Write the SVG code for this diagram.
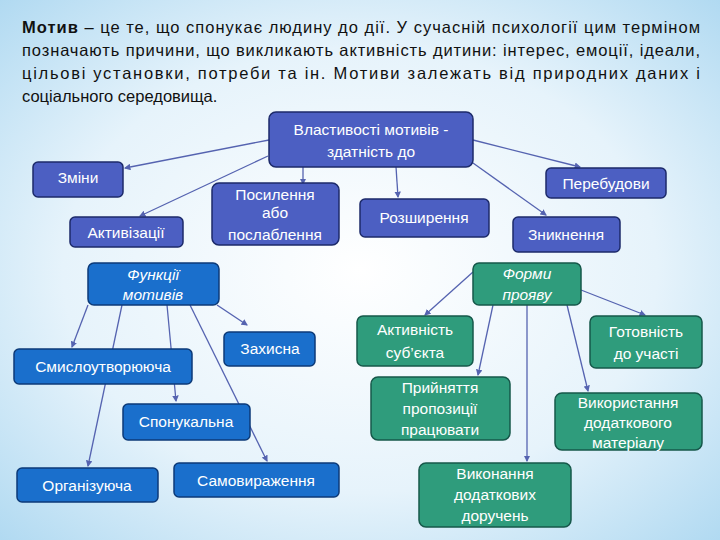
<svg xmlns="http://www.w3.org/2000/svg" width="720" height="540" viewBox="0 0 720 540">
<defs>
<radialGradient id="bg" cx="50%" cy="50%" r="75%">
<stop offset="0" stop-color="#ffffff"/><stop offset="0.55" stop-color="#e6f3fb"/><stop offset="1" stop-color="#a9d6f0"/>
</radialGradient>
<marker id="a" viewBox="0 0 6 6" refX="5" refY="3" markerWidth="5" markerHeight="5" orient="auto"><path d="M0,0L6,3L0,6z" fill="#5563b0"/></marker>
<style>
.t{font-family:"Liberation Sans","DejaVu Sans",sans-serif;font-size:16.5px;fill:#111}
.b rect{fill:#4c5fc2;stroke:#1c2a6a;stroke-width:1.5}
.f rect{fill:#1a6fcc;stroke:#0c3a78;stroke-width:1.5}
.g rect{fill:#2f9c7c;stroke:#16584a;stroke-width:1.5}
.n text{font-family:"Liberation Sans","DejaVu Sans",sans-serif;font-size:15.5px;fill:#fff;text-anchor:middle}
.i text{font-style:italic}
#c line{stroke:#5563b0;stroke-width:1.3;marker-end:url(#a)}
</style>
</defs>
<rect width="720" height="540" fill="url(#bg)"/>
<g class="t">
<text x="22" y="33" textLength="678" lengthAdjust="spacing"><tspan font-weight="bold">Мотив</tspan> – це те, що спонукає людину до дії. У сучасній психології цим терміном</text>
<text x="22" y="56" textLength="678" lengthAdjust="spacing">позначають причини, що викликають активність дитини: інтерес, емоції, ідеали,</text>
<text x="22" y="79" textLength="678" lengthAdjust="spacing">цільові установки, потреби та ін. Мотиви залежать від природних даних і</text>
<text x="22" y="102">соціального середовища.</text>
</g>
<g id="c">
<line x1="269" y1="140" x2="125" y2="168"/>
<line x1="268" y1="156" x2="140" y2="216"/>
<line x1="303" y1="167" x2="303" y2="184"/>
<line x1="396" y1="167" x2="398" y2="197"/>
<line x1="473" y1="140" x2="580" y2="167"/>
<line x1="473" y1="163" x2="546" y2="215"/>
<line x1="88" y1="305" x2="72" y2="347"/>
<line x1="122" y1="305" x2="88" y2="466"/>
<line x1="167" y1="305" x2="176" y2="401"/>
<line x1="190" y1="305" x2="267" y2="461"/>
<line x1="217" y1="305" x2="247" y2="325"/>
<line x1="473" y1="272" x2="425" y2="315"/>
<line x1="493" y1="305" x2="478" y2="375"/>
<line x1="527" y1="305" x2="527" y2="461"/>
<line x1="567" y1="305" x2="588" y2="391"/>
<line x1="581" y1="290" x2="645" y2="315"/>
</g>
<g id="root" class="n b"><rect x="269" y="112" width="204" height="55" rx="7"/><text x="371" y="135">Властивості мотивів -</text><text x="371" y="157">здатність до</text></g>
<g id="zminy" class="n b"><rect x="33" y="162" width="90" height="35" rx="5"/><text x="78" y="183">Зміни</text></g>
<g id="aktyv" class="n b"><rect x="70" y="217" width="113" height="30" rx="5"/><text x="126" y="238">Активізації</text></g>
<g id="posyl" class="n b"><rect x="212" y="183" width="127" height="62" rx="7"/><text x="275" y="200">Посилення</text><text x="275" y="218">або</text><text x="275" y="240">послаблення</text></g>
<g id="rozsh" class="n b"><rect x="360" y="199" width="129" height="38" rx="5"/><text x="424" y="223">Розширення</text></g>
<g id="pereb" class="n b"><rect x="546" y="168" width="120" height="30" rx="5"/><text x="606" y="189">Перебудови</text></g>
<g id="znyk" class="n b"><rect x="513" y="217" width="107" height="35" rx="5"/><text x="566" y="240">Зникнення</text></g>
<g id="funk" class="n f i"><rect x="88" y="263" width="131" height="42" rx="6"/><text x="153" y="280">Функції</text><text x="153" y="300">мотивів</text></g>
<g id="formy" class="n g i"><rect x="473" y="263" width="108" height="42" rx="6"/><text x="527" y="279">Форми</text><text x="527" y="300">прояву</text></g>
<g id="smysl" class="n f"><rect x="14" y="349" width="178" height="35" rx="5"/><text x="103" y="372">Смислоутворююча</text></g>
<g id="zakh" class="n f"><rect x="224" y="332" width="91" height="34" rx="5"/><text x="270" y="354">Захисна</text></g>
<g id="sponuk" class="n f"><rect x="123" y="404" width="127" height="36" rx="5"/><text x="186" y="427">Спонукальна</text></g>
<g id="orhan" class="n f"><rect x="17" y="468" width="141" height="34" rx="5"/><text x="87" y="491">Організуюча</text></g>
<g id="samov" class="n f"><rect x="174" y="463" width="165" height="34" rx="5"/><text x="256" y="486">Самовираження</text></g>
<g id="aktsub" class="n g"><rect x="357" y="316" width="116" height="50" rx="6"/><text x="415" y="335">Активність</text><text x="415" y="358">суб’єкта</text></g>
<g id="hotov" class="n g"><rect x="590" y="316" width="112" height="52" rx="6"/><text x="646" y="337">Готовність</text><text x="646" y="359">до участі</text></g>
<g id="pryin" class="n g"><rect x="371" y="377" width="139" height="63" rx="7"/><text x="440" y="393">Прийняття</text><text x="440" y="414">пропозиції</text><text x="440" y="435">працювати</text></g>
<g id="vykor" class="n g"><rect x="555" y="393" width="147" height="57" rx="7"/><text x="628" y="408">Використання</text><text x="628" y="428">додаткового</text><text x="628" y="448">матеріалу</text></g>
<g id="vykon" class="n g"><rect x="419" y="463" width="152" height="64" rx="7"/><text x="495" y="479">Виконання</text><text x="495" y="500">додаткових</text><text x="495" y="521">доручень</text></g>
</svg>
